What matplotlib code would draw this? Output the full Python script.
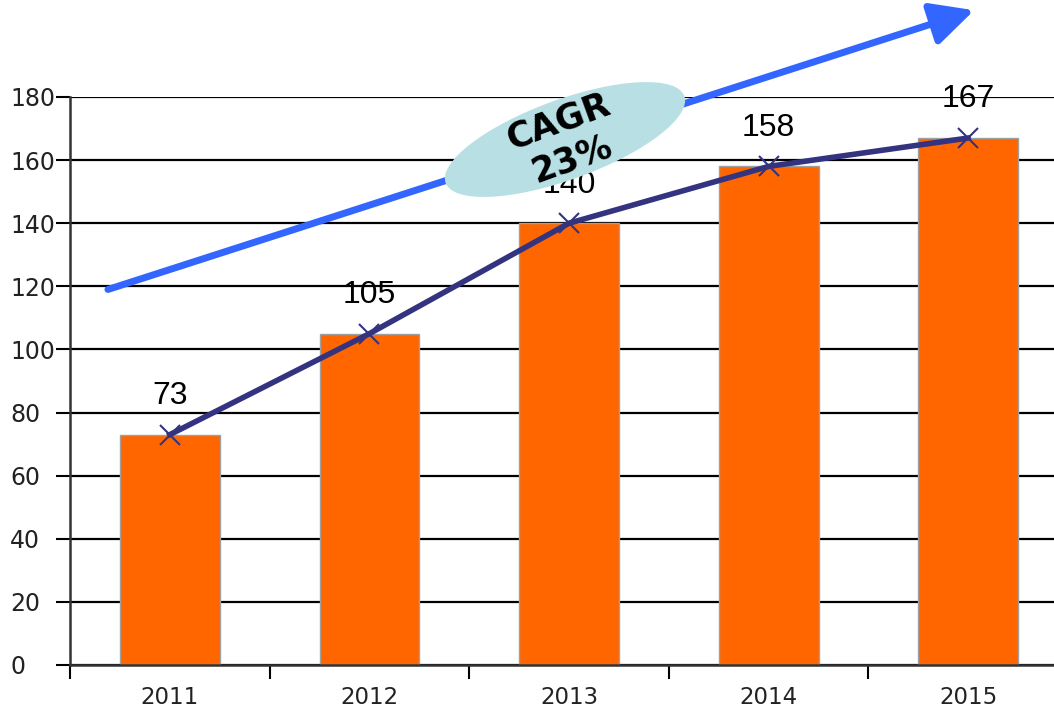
import matplotlib
matplotlib.use("Agg")
import matplotlib.pyplot as plt
from matplotlib.patches import Ellipse

years = ["2011", "2012", "2013", "2014", "2015"]
values = [73, 105, 140, 158, 167]
y_ticks = [0, 20, 40, 60, 80, 100, 120, 140, 160, 180]

bar_color = "#FF6600"
line_color = "#333380"
arrow_color = "#3366FF"

fig = plt.figure(figsize=(10.54, 7.08), dpi=100)
# axes runs past the right edge of the picture, as in the reference
ax = fig.add_axes([70 / 1054, 43 / 708, 998 / 1054, 568 / 708])

x = list(range(len(years)))
ax.bar(x, values, width=0.5, color=bar_color, edgecolor="#A0A0A0", linewidth=1, zorder=2)
ax.plot(x, values, color=line_color, linewidth=4, marker="x", markersize=14,
        markeredgewidth=1.5, zorder=3)

for xi, v in zip(x, values):
    ax.annotate(str(v), (xi, v), xytext=(0, 22), textcoords="offset points",
                ha="center", va="baseline", fontsize=23, family="Liberation Sans",
                zorder=4)

ax.set_xlim(-0.5, len(years) - 0.5)
ax.set_ylim(0, 180)
ax.set_yticks(y_ticks)
ax.set_xticks(x)
ax.set_xticklabels(years)
ax.set_xticks([i - 0.5 for i in range(len(years) + 1)], minor=True)
ax.tick_params(axis="x", which="major", length=0, pad=15, labelsize=16.5, labelcolor="#222222")
ax.tick_params(axis="x", which="minor", length=10, width=1.5, direction="out")
ax.tick_params(axis="y", length=10, width=1.5, direction="out", pad=33,
               labelsize=17, labelcolor="#222222")
for lbl in ax.get_yticklabels():
    lbl.set_horizontalalignment("left")
ax.grid(axis="y", color="black", linewidth=1.6, zorder=1)
ax.set_axisbelow(True)
for side in ["top", "right"]:
    ax.spines[side].set_visible(False)
for side in ["left", "bottom"]:
    ax.spines[side].set_linewidth(1.8)
    ax.spines[side].set_color("#333333")

# growth arrow
ax.annotate("", xy=(4.03, 207.5), xytext=(-0.31, 119),
            arrowprops=dict(arrowstyle="-|>,head_length=1.0,head_width=0.5",
                            color=arrow_color, lw=5, mutation_scale=26,
                            shrinkA=0, shrinkB=0),
            annotation_clip=False, zorder=5)

ell = Ellipse((5.65, 5.685), 2.54, 0.80, angle=20, transform=fig.dpi_scale_trans,
              facecolor="#B8E0E4", edgecolor="none", zorder=6)
fig.add_artist(ell)
fig.text(5.65 / 10.54, 5.68 / 7.08, "CAGR\n23%", rotation=20, ha="center", va="center",
         fontsize=25, fontweight="bold", linespacing=1.2, zorder=7,
         rotation_mode="anchor")

fig.savefig("out.png", dpi=100)
